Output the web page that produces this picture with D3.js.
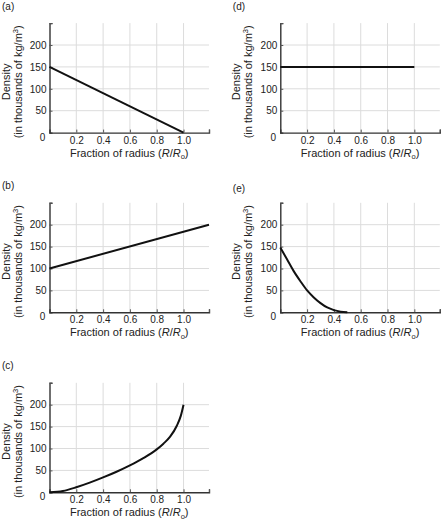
<!DOCTYPE html>
<html>
<head>
<meta charset="utf-8">
<script src="https://cdn.jsdelivr.net/npm/d3@7"></script>
<style>
  body { margin: 0; background: #fff; }
  text { font-family: "Liberation Sans", Arial, sans-serif; fill: #222; }
</style>
</head>
<body>
<div id="chart-area"></div>
<script>
// ---- data ----
const panelNames = ["(a)", "(b)", "(c)", "(d)", "(e)"];

const radiusA = [0, 1.0];
const densityA = [150, 0];

const radiusB = [0, 1.19];
const densityB = [100, 200];

const radiusC = [0, 0.1, 0.2, 0.3, 0.4, 0.5, 0.6, 0.7, 0.8, 0.85, 0.9, 0.95, 0.98, 1.0];
const densityC = [0, 3, 11.5, 22, 34, 47, 61.5, 78, 98, 111, 127, 152, 175, 200];

const radiusD = [0, 1.0];
const densityD = [150, 150];

const radiusE = [0, 0.05, 0.1, 0.15, 0.2, 0.25, 0.3, 0.35, 0.4, 0.45, 0.5];
const densityE = [148, 121, 94, 71, 50, 34, 21, 11, 5, 1.5, 0];

const xTicks = [0.2, 0.4, 0.6, 0.8, 1.0];
const yTicks = [50, 100, 150, 200];

const xMax = 1.19, yMax = 250;

let svg = d3.select("#chart-area")
  .append("svg")
  .attr("width", 441)
  .attr("height", 523);

// panel placement (left edge of plot, bottom of plot)
let panels = [
  {name: panelNames[0], xs: radiusA, ys: densityA, left: 49.5, bottom: 132.6, curve: d3.curveLinear},
  {name: panelNames[1], xs: radiusB, ys: densityB, left: 49.5, bottom: 312.3, curve: d3.curveLinear},
  {name: panelNames[2], xs: radiusC, ys: densityC, left: 49.5, bottom: 492.3, curve: d3.curveMonotoneX},
  {name: panelNames[3], xs: radiusD, ys: densityD, left: 280.3, bottom: 132.6, curve: d3.curveLinear},
  {name: panelNames[4], xs: radiusE, ys: densityE, left: 280.3, bottom: 312.3, curve: d3.curveMonotoneX, labelShift: 3}
];

let width = 159.5, height = 109.5;

panels.forEach(function(p) {
  let g = svg.append("g")
    .attr("transform", "translate(" + p.left + "," + (p.bottom - height) + ")");

  let x = d3.scaleLinear().domain([0, xMax]).range([0, width]);
  let y = d3.scaleLinear().domain([0, yMax]).range([height, 0]);

  // grid
  g.selectAll(".vgrid").data(xTicks).enter().append("line")
    .attr("x1", d => x(d)).attr("x2", d => x(d))
    .attr("y1", 0).attr("y2", height)
    .attr("stroke", "#dcdcdc").attr("stroke-width", 1);
  g.selectAll(".hgrid").data(yTicks).enter().append("line")
    .attr("x1", 0).attr("x2", width)
    .attr("y1", d => y(d)).attr("y2", d => y(d))
    .attr("stroke", "#dcdcdc").attr("stroke-width", 1);

  // axes, ticks pointing inwards
  let xAxis = d3.axisBottom(x).tickValues(xTicks.concat([xMax]))
    .tickSize(-3).tickPadding(4)
    .tickFormat(d => d === xMax ? "" : d3.format(".1f")(d));
  let yAxis = d3.axisLeft(y).tickValues(yTicks.concat([yMax]))
    .tickSize(-3).tickPadding(3)
    .tickFormat(d => d === yMax ? "" : d);

  let xg = g.append("g").attr("transform", "translate(0," + height + ")").call(xAxis);
  let yg = g.append("g").call(yAxis);
  [xg, yg].forEach(function(a) {
    a.select(".domain").attr("stroke", "#333").attr("stroke-width", 1.4);
    a.selectAll(".tick line").attr("stroke", "#555");
    a.selectAll("text").attr("font-size", 10).attr("fill", "#222")
      .attr("font-family", "Liberation Sans, Arial, sans-serif");
  });

  // shared zero at the corner
  g.append("text")
    .attr("x", x(0) - 7)
    .attr("y", y(0) + 8)
    .attr("text-anchor", "middle")
    .attr("font-size", 10)
    .text("0");

  // the density curve
  let pts = p.xs.map((d, i) => [d, p.ys[i]]);
  g.append("path")
    .datum(pts)
    .attr("fill", "none")
    .attr("stroke", "#111")
    .attr("stroke-width", 2)
    .attr("d", d3.line().x(d => x(d[0])).y(d => y(d[1])).curve(p.curve));

  // x title
  let xt = g.append("text")
    .attr("x", width / 2)
    .attr("y", height + 24)
    .attr("text-anchor", "middle")
    .attr("font-size", 11);
  xt.append("tspan").text("Fraction of radius (");
  xt.append("tspan").attr("font-style", "italic").text("R");
  xt.append("tspan").text("/");
  xt.append("tspan").attr("font-style", "italic").text("R");
  xt.append("tspan").attr("font-size", 7.5).attr("dy", 2.5).text("o");
  xt.append("tspan").attr("dy", -2.5).text(")");

  // y title, two lines
  g.append("text")
    .attr("transform", "translate(-40," + (height / 2 + 4) + ") rotate(-90)")
    .attr("text-anchor", "middle")
    .attr("font-size", 11)
    .text("Density");
  let yt = g.append("text")
    .attr("transform", "translate(-28," + (height / 2 + 4) + ") rotate(-90)")
    .attr("text-anchor", "middle")
    .attr("font-size", 11);
  yt.append("tspan").text("(in thousands of kg/m");
  yt.append("tspan").attr("font-size", 7.5).attr("dy", -4).text("3");
  yt.append("tspan").attr("dy", 4).text(")");

  // panel letter
  svg.append("text")
    .attr("x", p.left - 47.5)
    .attr("y", p.bottom - height - 13.5 + (p.labelShift || 0))
    .attr("font-size", 10)
    .text(p.name);
});
</script>
</body>
</html>
